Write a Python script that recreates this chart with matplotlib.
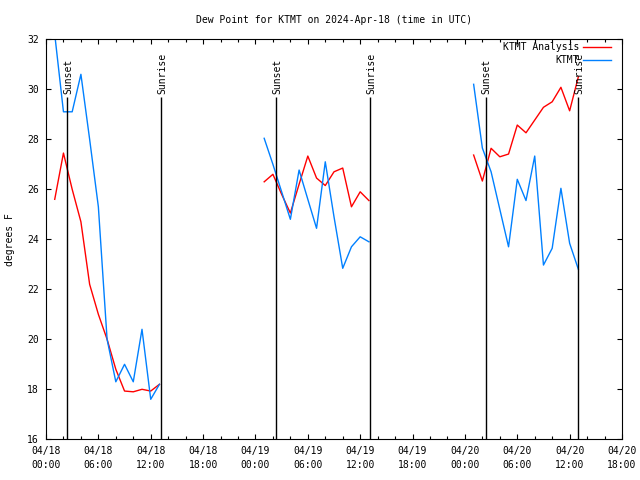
import numpy as np
import matplotlib
matplotlib.use('Agg')
import matplotlib.pyplot as plt

# hours since 2024-04-18 00:00 UTC
hours_d1 = [1, 2, 3, 4, 5, 6, 7, 8, 9, 10, 11, 12, 13]
hours_d2 = [25, 26, 27, 28, 29, 30, 31, 32, 33, 34, 35, 36, 37]
hours_d3 = [49, 50, 51, 52, 53, 54, 55, 56, 57, 58, 59, 60, 61]

analysis_d1 = [25.6, 27.45, 26.0, 24.7, 22.2, 21.0, 20.0, 18.8, 17.93, 17.9, 18.0, 17.93, 18.2]
analysis_d2 = [26.3, 26.6, 25.8, 25.05, 26.2, 27.33, 26.45, 26.15, 26.7, 26.85, 25.3, 25.9, 25.55]
analysis_d3 = [27.37, 26.33, 27.64, 27.3, 27.41, 28.57, 28.26, 28.77, 29.28, 29.5, 30.08, 29.14, 30.5]

obs_d1 = [32.2, 29.1, 29.1, 30.6, 28.0, 25.3, 20.0, 18.3, 19.0, 18.3, 20.4, 17.6, 18.2]
obs_d2 = [28.04, 27.0, 25.9, 24.8, 26.77, 25.6, 24.44, 27.1, 24.9, 22.84, 23.7, 24.1, 23.9]
obs_d3 = [30.2, 27.65, 26.7, 25.2, 23.7, 26.4, 25.55, 27.33, 22.97, 23.64, 26.04, 23.84, 22.8]

sunset_hours = [2.43, 26.4, 50.38]
sunrise_hours = [13.2, 37.17, 61.0]

tick_hours = [0, 6, 12, 18, 24, 30, 36, 42, 48, 54, 60, 66]
tick_labels = ['04/18\n00:00', '04/18\n06:00', '04/18\n12:00', '04/18\n18:00',
               '04/19\n00:00', '04/19\n06:00', '04/19\n12:00', '04/19\n18:00',
               '04/20\n00:00', '04/20\n06:00', '04/20\n12:00', '04/20\n18:00']

plt.rcParams['font.family'] = 'DejaVu Sans Mono'
plt.rcParams['font.size'] = 7

fig = plt.figure(figsize=(6.4, 4.8), dpi=100)
ax = fig.add_axes([46/640, 1-439.3/480, 576/640, 400/480])

# days joined with a nan so the line breaks between them
def join(a, b, c, gap=np.nan):
    return list(a) + [gap] + list(b) + [gap] + list(c)

t = join(hours_d1, hours_d2, hours_d3, gap=19)
ax.plot(t, join(analysis_d1, analysis_d2, analysis_d3), color='#ff0000', lw=1, label='KTMT Analysis')
ax.plot(t, join(obs_d1, obs_d2, obs_d3), color='#0080ff', lw=1, label='KTMT')

for h in sunset_hours:
    ax.vlines(h, 16, 29.68, color='black', lw=1)
    ax.text(h + 0.1, 29.82, 'Sunset', rotation=90, ha='center', va='bottom')
for h in sunrise_hours:
    ax.vlines(h, 16, 29.68, color='black', lw=1)
    ax.text(h + 0.1, 29.82, 'Sunrise', rotation=90, ha='center', va='bottom')

ax.set_xlim(0, 66)
ax.set_ylim(16, 32)
ax.set_xticks(tick_hours)
ax.set_xticklabels(tick_labels)
ax.set_xticks(np.arange(0, 67, 2), minor=True)
ax.set_yticks(np.arange(16, 33, 2))
for lab in ax.get_xticklabels():
    lab.set_linespacing(1.45)
ax.tick_params(axis='both', which='both', direction='in', top=True, right=True, width=0.8)
ax.tick_params(axis='x', which='major', length=3.5, pad=5)
ax.tick_params(axis='x', which='minor', length=2.2)
ax.tick_params(axis='y', which='major', length=3.5, pad=5)
for s in ax.spines.values():
    s.set_linewidth(0.8)

ax.set_ylabel('degrees F')
ax.yaxis.set_label_coords((15 - 46) / 576, 0.5)
fig.text(334/640, 1-20/480, 'Dew Point for KTMT on 2024-Apr-18 (time in UTC)', ha='center', va='center')

ax.legend(loc='upper right', bbox_to_anchor=(611/640, 1-42/480), bbox_transform=fig.transFigure,
          frameon=False, markerfirst=False, handlelength=2.9, handletextpad=0.4,
          borderpad=0, borderaxespad=0, labelspacing=0.3)

fig.savefig('out.png', dpi=100)
